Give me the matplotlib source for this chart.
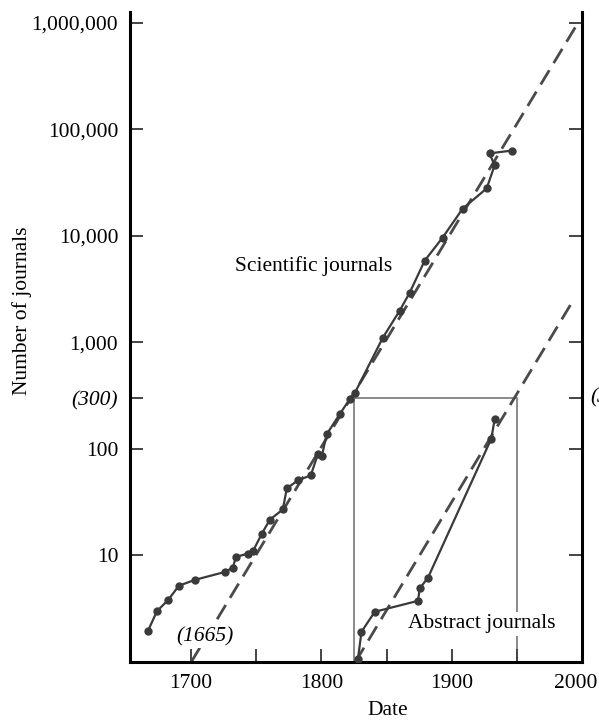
import matplotlib
matplotlib.use('Agg')
import matplotlib.pyplot as plt
import matplotlib.ticker as mticker
from matplotlib.transforms import blended_transform_factory, ScaledTranslation

# Scientific journals (year, count)
sci_years = [1666.8, 1673.7, 1682.1, 1690.6, 1702.8, 1725.9, 1732.0, 1734.3,
             1743.5, 1747.3, 1754.2, 1760.4, 1770.3, 1773.4, 1781.8, 1791.8,
             1797.2, 1800.2, 1804.0, 1814.0, 1821.7, 1825.5, 1847.0, 1860.0,
             1867.7, 1879.2, 1893.0, 1908.4, 1926.8, 1932.9, 1929.0, 1946.0]
sci_counts = [1.96, 3.0, 3.8, 5.2, 5.9, 7.0, 7.7, 9.7,
              10.4, 10.9, 16, 21.7, 27, 42.6, 50.6, 56.5,
              89, 85, 137, 212, 293, 333, 1100, 1980,
              2920, 5840, 9620, 18000, 27800, 45800, 59400, 63000]

# Abstract journals
abs_years = [1828.0, 1830.7, 1840.9, 1874.1, 1875.4, 1881.8, 1930.4, 1932.9]
abs_counts = [1.07, 1.92, 2.96, 3.75, 4.9, 6.2, 125, 189]

# exponential trend lines (dashed)
sci_trend_years = [1700, 1997]
sci_trend_counts = [1, 1.0e6]
abs_trend_years = [1826, 1993]
abs_trend_counts = [1, 2450]

# the 300-journal box between 1825 and 1950
box_years = [1825, 1825, 1950, 1950]
box_counts = [1, 300, 300, 1]

y_ticks = [10, 100, 300, 1000, 10000, 100000, 1000000]
y_labels = ['10', '100', '(300)', '1,000', '10,000', '100,000', '1,000,000']
x_ticks = [1700, 1750, 1800, 1850, 1900, 1950, 2000]
x_labels = ['1700', '', '1800', '', '1900', '', '2000']

plt.rcParams['font.family'] = ['Liberation Serif', 'DejaVu Serif']
FS = 15.5

fig = plt.figure(figsize=(5.99, 7.23), dpi=100)
ax = fig.add_axes([130 / 599, 1 - 662 / 723, 452 / 599, 650 / 723])

line_col = '#3a3a3a'

# box
ax.plot(box_years, box_counts, color='#8a8a8a', lw=1.4, zorder=1)

# trend lines
ax.plot(sci_trend_years, sci_trend_counts, color='#4a4a4a', lw=2.0,
        dashes=(6, 3), zorder=2)
ax.plot(abs_trend_years, abs_trend_counts, color='#4a4a4a', lw=2.0,
        dashes=(6, 3), zorder=2)

# data
ax.plot(sci_years, sci_counts, color=line_col, lw=1.6, marker='o', ms=5,
        zorder=3)
ax.plot(abs_years, abs_counts, color=line_col, lw=1.6, marker='o', ms=5,
        zorder=3)

ax.set_yscale('log')
ax.set_xlim(1653, 2000)
ax.set_ylim(1, 1.26e6)

ax.set_yticks(y_ticks)
ax.set_yticklabels(y_labels)
ax.yaxis.set_minor_locator(mticker.NullLocator())
ax.set_xticks(x_ticks)
ax.set_xticklabels(x_labels)

for lab in ax.get_yticklabels():
    if lab.get_text() == '(300)':
        lab.set_style('italic')

ax.tick_params(axis='both', direction='in', length=9.5, width=1.4,
               color='#444444', labelsize=FS, pad=8.5)
ax.tick_params(axis='y', right=True)

# the 2000 label sits a little left of its tick in the original
for lab in ax.get_xticklabels():
    if lab.get_text() == '2000':
        lab.set_transform(lab.get_transform() +
                          ScaledTranslation(-6 / 100, 0, fig.dpi_scale_trans))

for side in ['left', 'bottom', 'right']:
    ax.spines[side].set_linewidth(2.2)
    ax.spines[side].set_color('black')
ax.spines['top'].set_visible(False)

ax.set_ylabel('Number of journals', fontsize=FS)
ax.yaxis.set_label_coords(-0.217, 0.54)
ax.set_xlabel('Date', fontsize=FS)
ax.xaxis.set_label_coords(0.571, -0.06)

ax.text(1733.5, 5250, 'Scientific journals', fontsize=FS, ha='left',
        va='center')
ax.text(1923, 2.28, 'Abstract journals', fontsize=FS, ha='center',
        va='center', zorder=4,
        bbox=dict(facecolor='white', edgecolor='none', pad=2))
ax.text(1710.5, 1.72, '(1665)', fontsize=FS, ha='center', va='center',
        style='italic', zorder=4,
        bbox=dict(facecolor='white', edgecolor='none', pad=1))

# right-hand (300) label, cut off by the figure edge
trans = blended_transform_factory(ax.transAxes, ax.transData)
ax.annotate('(300)', xy=(1, 300), xycoords=trans, xytext=(8, 0),
            textcoords='offset pixels', fontsize=FS, style='italic',
            ha='left', va='center', annotation_clip=False)

fig.savefig('out.png', dpi=100)
